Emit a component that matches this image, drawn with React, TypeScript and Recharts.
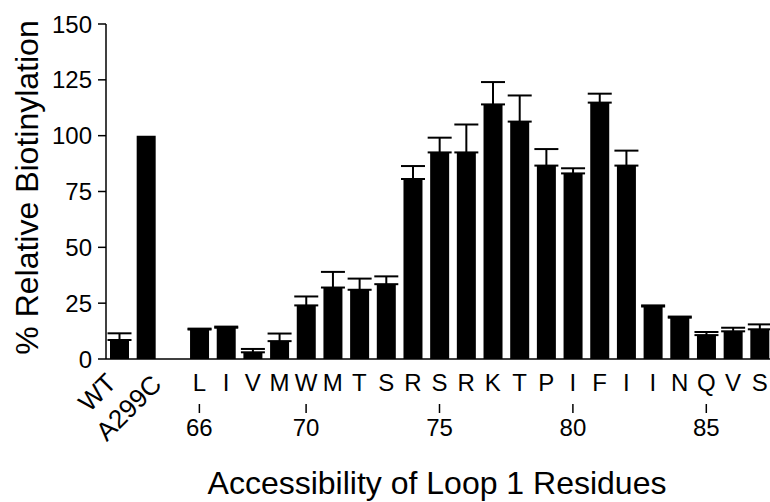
/* Loop 1 accessibility: % relative biotinylation per residue (bar + SEM) */

import React from "react";
import { BarChart, Bar, XAxis, YAxis, ErrorBar, Label } from "recharts";

const categories = [
  "WT", "A299C", "",
  "L", "I", "V", "M", "W", "M", "T", "S", "R", "S", "R",
  "K", "T", "P", "I", "F", "I", "I", "N", "Q", "V", "S",
];
const residueNumbers = [
  null, null, null,
  66, 67, 68, 69, 70, 71, 72, 73, 74, 75, 76,
  77, 78, 79, 80, 81, 82, 83, 84, 85, 86, 87,
];
const labelledNumbers = [66, 70, 75, 80, 85];
const biotinylation = [
  8.5, 100, null,
  13.2, 14, 3, 8, 24, 32, 31, 33.5, 80.6, 92.5, 92.5,
  114, 106.3, 86.6, 83.1, 114.8, 86.6, 23.5, 18.5, 10.7, 12.4, 13.3,
];
const sem = [
  3, null, null,
  0.4, 0.5, 1.5, 3.4, 4, 7, 5, 3.5, 5.8, 6.6, 12.5,
  10, 11.7, 7.4, 2.3, 4, 6.7, 0.5, 0.5, 1.4, 1.6, 2.2,
];
const yTicks = [0, 25, 50, 75, 100, 125, 150];

const data = categories.map((label, i) => ({
  key: `c${i}`,
  label,
  value: biotinylation[i],
  err: sem[i] == null ? null : [0, sem[i]],
}));

const FONT = "'Liberation Sans', Arial, Helvetica, sans-serif";

// end point offsets for the rotated control labels
const controlOffset: Record<string, { dx: number; dy: number }> = {
  WT: { dx: -1.5, dy: 25.5 },
  A299C: { dx: 17, dy: 27 },
};

function ResidueTick(props: any) {
  const { x, y, payload } = props;
  const i = payload.index;
  const label = categories[i];
  const num = residueNumbers[i];

  if (controlOffset[label]) {
    const { dx, dy } = controlOffset[label];
    const ex = x + dx;
    const ey = y + dy;
    return (
      <text
        x={ex}
        y={ey}
        textAnchor="end"
        transform={`rotate(-45 ${ex} ${ey})`}
        fontSize={26}
        fontFamily={FONT}
        fill="#000"
      >
        {label}
      </text>
    );
  }
  if (!label) return <g />;

  const showNum = num != null && labelledNumbers.includes(num);
  return (
    <g>
      <text x={x} y={y + 32} textAnchor="middle" fontSize={24} fontFamily={FONT} fill="#000">
        {label}
      </text>
      {showNum && (
        <>
          <line x1={x} x2={x} y1={y + 45} y2={y + 54} stroke="#000" strokeWidth={1.5} />
          <text x={x} y={y + 77} textAnchor="middle" fontSize={24} fontFamily={FONT} fill="#000">
            {num}
          </text>
        </>
      )}
    </g>
  );
}

export default function App() {
  return (
    <div style={{ position: "absolute", left: 0, top: 0, width: 770, height: 502, background: "#fff" }}>
      <BarChart
        width={770}
        height={502}
        data={data}
        margin={{ top: 24, right: -3, left: 0, bottom: 0 }}
        barSize={19}
      >
        <XAxis
          dataKey="key"
          interval={0}
          height={143}
          tickLine={false}
          tickSize={0}
          tickMargin={0}
          axisLine={{ stroke: "#000", strokeWidth: 1.5 }}
          tick={<ResidueTick />}
        >
          <Label
            content={() => (
              <text x={437} y={494} textAnchor="middle" fontSize={32} fontFamily={FONT} fill="#000">
                Accessibility of Loop 1 Residues
              </text>
            )}
          />
        </XAxis>
        <YAxis
          width={106}
          domain={[0, 150]}
          ticks={yTicks}
          interval={0}
          tickSize={8}
          tickMargin={6}
          axisLine={{ stroke: "#000", strokeWidth: 1.5 }}
          tickLine={{ stroke: "#000", strokeWidth: 1.5 }}
          tick={{ fontSize: 24, fontFamily: FONT, fill: "#000" }}
        >
          <Label
            content={() => (
              <text
                x={37.5}
                y={187.5}
                textAnchor="middle"
                transform="rotate(-90 37.5 187.5)"
                fontSize={32}
                fontFamily={FONT}
                fill="#000"
              >
                % Relative Biotinylation
              </text>
            )}
          />
        </YAxis>
        <Bar dataKey="value" fill="#000" isAnimationActive={false}>
          <ErrorBar
            dataKey="err"
            direction="y"
            width={12}
            stroke="#000"
            strokeWidth={2}
            isAnimationActive={false}
          />
        </Bar>
      </BarChart>
    </div>
  );
}
